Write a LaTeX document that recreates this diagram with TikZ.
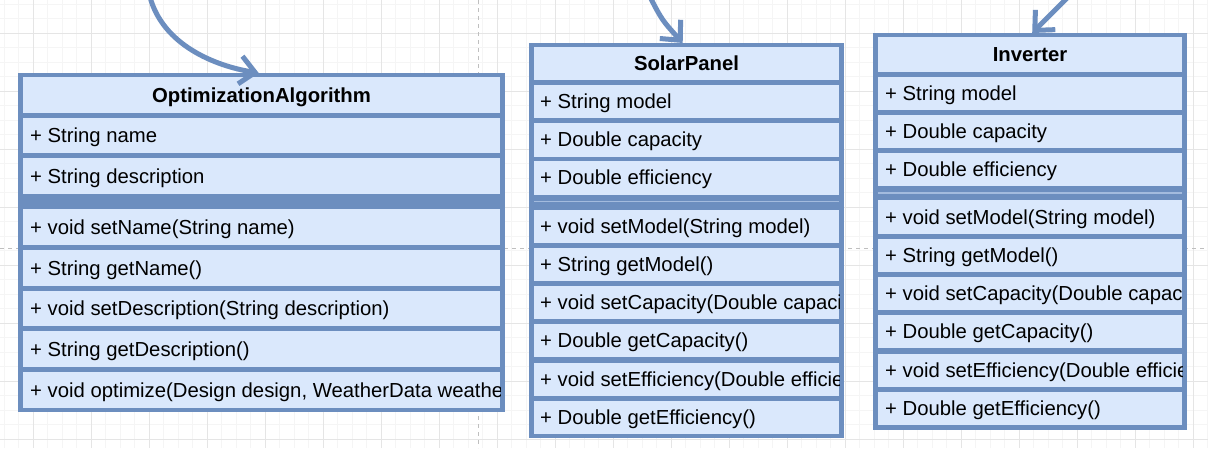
\documentclass[tikz,border=0pt]{standalone}
\usepackage{fontspec}
\setmainfont{Liberation Sans}
\usetikzlibrary{arrows.meta}
\definecolor{umlborder}{HTML}{6C8EBF}
\definecolor{umlfill}{HTML}{DAE8FC}
\newcommand{\umlfont}{\fontsize{20.3}{24}\selectfont}
\tikzset{
  classbox/.style={fill=umlborder, inner sep=0pt, anchor=north west},
  member/.style={anchor=base west, inner sep=0pt, font=\umlfont},
  classname/.style={anchor=base, inner sep=0pt, font=\umlfont\bfseries},
  assoc/.style={draw=umlborder, line width=5pt, -{Straight Barb[length=15pt,width=28pt]}},
  guide/.style={draw=black!25, line width=0.8pt, dash pattern=on 4pt off 4pt}
}

\begin{document}
\begin{tikzpicture}[x=1pt,y=-1pt]
\useasboundingbox (0,0) rectangle (1208,448);
\fill[white] (0,0) rectangle (1208,448);

% background grid
\foreach \i in {-2,...,81}
  \draw[black!4] ({33+14.5*\i},0) -- ({33+14.5*\i},448);
\foreach \i in {-2,...,29}
  \draw[black!4] (0,{33+14.5*\i}) -- (1208,{33+14.5*\i});
\foreach \i in {0,...,20}
  \draw[black!10] ({33+58*\i},0) -- ({33+58*\i},448);
\foreach \i in {0,...,7}
  \draw[black!10] (0,{33+58*\i}) -- (1208,{33+58*\i});
\draw[guide] (0,248) -- (1208,248);
\draw[guide] (478,0) -- (478,448);

% OptimizationAlgorithm
\node[classbox, minimum width=487pt, minimum height=339pt] (optbox) at (18,73) {};
\foreach \t/\b in {77/113,118/153,158/194,209/245,250/286,291/326,331/367,372/408}
  \fill[umlfill] (23,\t) rectangle (500,\b);
\begin{scope}
  \clip (23,77) rectangle (500,408);
  \node[classname] (opt) at (261.5,102) {OptimizationAlgorithm};
  \node[member] (opt1) at (30,142) {+ String name};
  \node[member] (opt2) at (30,183) {+ String description};
  \node[member] (opt3) at (30,234) {+ void setName(String name)};
  \node[member] (opt4) at (30,275) {+ String getName()};
  \node[member] (opt5) at (30,315) {+ void setDescription(String description)};
  \node[member] (opt6) at (30,356) {+ String getDescription()};
  \node[member] (opt7) at (30,397) {+ void optimize(Design design, WeatherData weather)};
\end{scope}

% SolarPanel
\node[classbox, minimum width=315pt, minimum height=395pt] (spbox) at (529,43) {};
\foreach \t/\b in {47/80,85/118,123/157,161/195,210/243,248/281,286/319,324/357,363/396,401/434}
  \fill[umlfill] (534,\t) rectangle (839,\b);
\draw[umlfill!50!umlborder, line width=1.5pt] (534,201.5) -- (839,201.5);
\begin{scope}
  \clip (534,47) rectangle (839,434);
  \node[classname] (sp) at (686.5,70.5) {SolarPanel};
  \node[member] (sp1) at (540,108) {+ String model};
  \node[member] (sp2) at (540,146.5) {+ Double capacity};
  \node[member] (sp3) at (540,184.5) {+ Double efficiency};
  \node[member] (sp4) at (540,233) {+ void setModel(String model)};
  \node[member] (sp5) at (540,271) {+ String getModel()};
  \node[member] (sp6) at (540,309) {+ void setCapacity(Double capacity)};
  \node[member] (sp7) at (540,347) {+ Double getCapacity()};
  \node[member] (sp8) at (540,386) {+ void setEfficiency(Double efficiency)};
  \node[member] (sp9) at (540,424) {+ Double getEfficiency()};
\end{scope}

% Inverter
\node[classbox, minimum width=314pt, minimum height=397pt] (invbox) at (873,33) {};
\foreach \t/\b in {37/72,77/110,115/148,153/186,200/234,239/272,277/310,315/348,354/387,392/425}
  \fill[umlfill] (878,\t) rectangle (1182,\b);
\draw[umlfill!50!umlborder, line width=1.5pt] (878,193) -- (1182,193);
\begin{scope}
  \clip (878,37) rectangle (1182,425);
  \node[classname] (inv) at (1030,61) {Inverter};
  \node[member] (inv1) at (885,100) {+ String model};
  \node[member] (inv2) at (885,138) {+ Double capacity};
  \node[member] (inv3) at (885,176) {+ Double efficiency};
  \node[member] (inv4) at (885,224) {+ void setModel(String model)};
  \node[member] (inv5) at (885,262) {+ String getModel()};
  \node[member] (inv6) at (885,300) {+ void setCapacity(Double capacity)};
  \node[member] (inv7) at (885,338) {+ Double getCapacity()};
  \node[member] (inv8) at (885,377) {+ void setEfficiency(Double efficiency)};
  \node[member] (inv9) at (885,415) {+ Double getEfficiency()};
\end{scope}

% incoming associations
\coordinate (optsrc) at (150,-3);
\coordinate (spsrc) at (650,-3);
\coordinate (invsrc) at (1068,-3);
\draw[assoc] (optsrc) .. controls (163,45) and (215,66) .. ([xshift=-3pt]optbox.north);
\draw[assoc] (spsrc) .. controls (662,20) .. ([xshift=-4pt]spbox.north);
\draw[assoc] (invsrc) -- ([xshift=2pt]invbox.north);

\end{tikzpicture}
\end{document}
